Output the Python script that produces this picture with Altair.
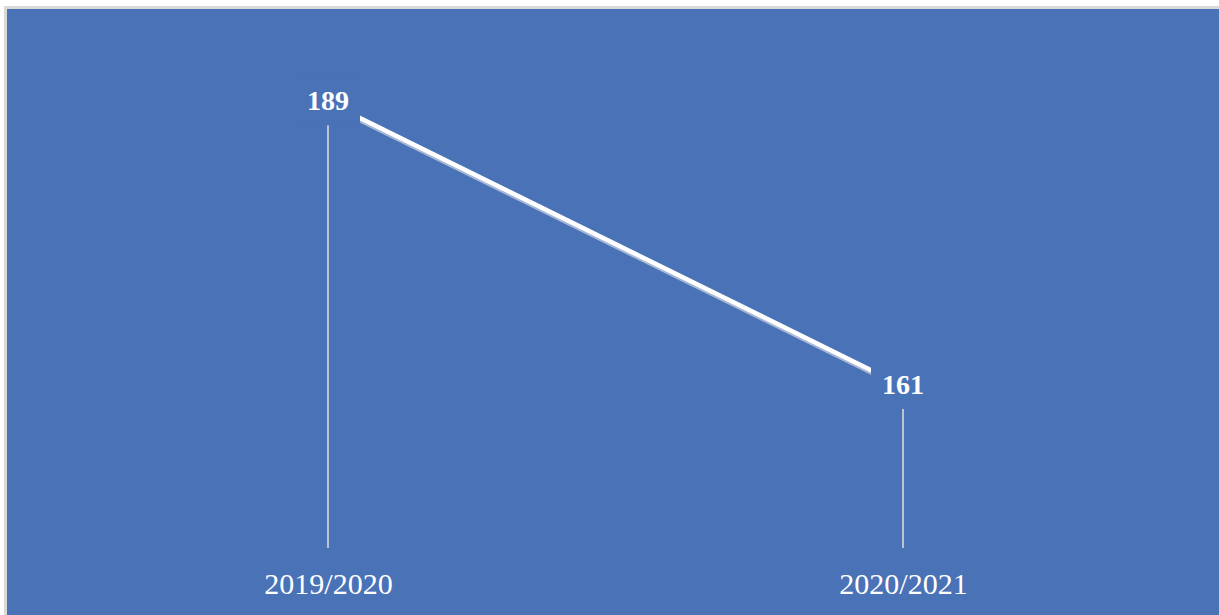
import altair as alt
import pandas as pd

# School years and their totals
years = ["2019/2020", "2020/2021"]
totals = [189, 161]

BLUE = "#4A72B7"
GRAY = "#D9D9D9"
SERIF = "Liberation Serif"

df = pd.DataFrame({"year": years, "total": totals})

x_enc = alt.X("year:N", sort=years,
              scale=alt.Scale(type="point", range=[321, 896], padding=0),
              axis=alt.Axis(title=None, domain=False, ticks=False, grid=False,
                            labelAngle=0, labelFont=SERIF, labelFontSize=30,
                            labelColor="white", labelBaseline="middle",
                            labelPadding=36))
y_scale = alt.Scale(domain=[145, 198.2], nice=False, zero=False)
y_enc = alt.Y("total:Q", scale=y_scale, axis=None)

base = alt.Chart(df)

# drop lines from each point down to the baseline
drops = base.mark_rule(color=GRAY, strokeWidth=1.6).encode(
    x=x_enc, y=y_enc, y2=alt.datum(145)
)

shadow = base.mark_line(color="#B8C3DA", strokeWidth=4, yOffset=2.5, opacity=0.85).encode(
    x=x_enc, y=y_enc
)
line = base.mark_line(color="white", strokeWidth=4.5).encode(x=x_enc, y=y_enc)

# label boxes share the plot fill so they mask the lines behind the numbers
boxes = base.mark_rect(color=BLUE, width=64, height=46).encode(x=x_enc, y=y_enc)

labels = base.mark_text(font=SERIF, fontSize=28, fontWeight="bold", color="white",
                        align="center", baseline="middle").encode(
    x=x_enc, y=y_enc, text="total:Q"
)

# outer frame: thin white margin and gray edge along the top and left
frame = [
    base.mark_rule(color="white", strokeWidth=4).encode(
        x=alt.value(-5), y=alt.value(-9), y2=alt.value(606)),
    base.mark_rule(color=GRAY, strokeWidth=3).encode(
        x=alt.value(-1.5), y=alt.value(-3), y2=alt.value(606)),
    base.mark_rule(color="white", strokeWidth=6).encode(
        y=alt.value(-6), x=alt.value(-7), x2=alt.value(1212)),
    base.mark_rule(color=GRAY, strokeWidth=3).encode(
        y=alt.value(-1.5), x=alt.value(-3), x2=alt.value(1212)),
]

chart = alt.layer(drops, shadow, line, boxes, labels, *frame).properties(
    width=1212,
    height=539,
    background=BLUE,
    padding={"left": 7, "top": 9, "right": 0, "bottom": 67},
    autosize=alt.AutoSizeParams(type="none"),
).configure_view(stroke=None)

chart.save("out.html", embed_options={"renderer": "svg", "actions": False})
